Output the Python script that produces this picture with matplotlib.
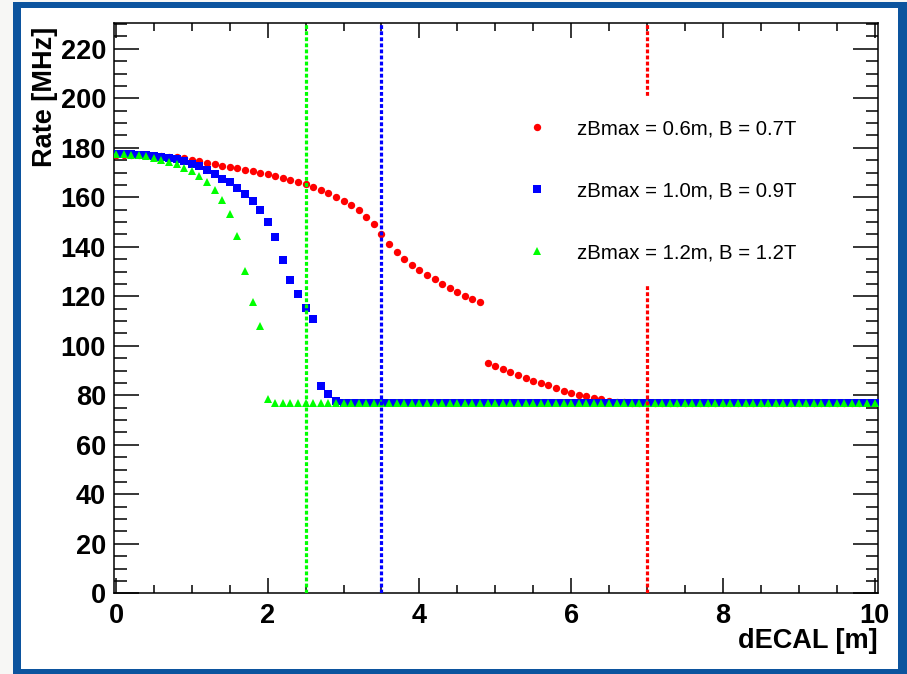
import numpy as np
import matplotlib
matplotlib.use("Agg")
import matplotlib.pyplot as plt
from matplotlib.patches import Rectangle
from matplotlib.ticker import MultipleLocator

# distance to ECAL [m], sampled every 0.1 m
d_ecal = [round(0.1 * i, 1) for i in range(101)]

rate_06 = [177.2, 177.2, 177.1, 177.0, 176.9, 176.8, 176.6, 176.4, 176.2, 175.7,
           175.1, 174.5, 173.9, 173.3, 172.8, 172.3, 171.7, 171.2, 170.6, 170.0,
           169.3, 168.6, 167.9, 167.0, 166.2, 165.2, 164.1, 162.8, 161.7, 160.2,
           158.6, 156.7, 154.7, 152.2, 149.3, 145.2, 141.2, 137.9, 135.2, 132.7,
           130.6, 128.7, 126.8, 125.1, 123.3, 121.8, 120.3, 118.9, 117.5, 93.0,
           92.0, 90.7, 89.4, 88.1, 87.1, 85.9, 85.0, 84.0, 83.1, 81.9,
           81.1, 80.1, 79.6, 78.8, 78.4, 77.8, 77.4, 77.2] + [77.0] * 33

rate_10 = [177.5, 177.4, 177.3, 177.0, 176.9, 176.6, 176.3, 175.9, 175.5, 174.7,
           173.6, 172.5, 171.0, 169.4, 167.5, 166.1, 163.8, 161.5, 158.4, 154.7,
           150.0, 143.9, 134.5, 126.7, 120.9, 115.2, 110.9, 83.8, 80.4, 77.6] + [77.0] * 71

rate_12 = [177.3, 177.3, 177.1, 176.9, 176.6, 176.0, 175.2, 174.4, 173.5, 172.0,
           170.5, 168.8, 166.1, 162.8, 158.8, 153.3, 144.5, 130.4, 117.5, 108.1,
           78.4] + [77.0] * 80

labels = ["zBmax = 0.6m, B = 0.7T",
          "zBmax = 1.0m, B = 0.9T",
          "zBmax = 1.2m, B = 1.2T"]

# chosen ECAL distances for each configuration
cut_06, cut_10, cut_12 = 7.0, 3.5, 2.5

W, H = 907, 674
fig = plt.figure(figsize=(W / 100, H / 100), dpi=100)
fig.patch.set_facecolor("#f7f7f5")

# slide-style blue frame
fig.add_artist(Rectangle((13.3 / W, -0.05), 1.2, (H - 1.7) / H + 0.05,
                         transform=fig.transFigure, facecolor="#0c549e",
                         edgecolor="none", zorder=-2))
fig.add_artist(Rectangle((20.7 / W, 5 / H), (898.3 - 20.7) / W, (669 - 8.3) / H,
                         transform=fig.transFigure, facecolor="white",
                         edgecolor="none", zorder=-1))

ax = fig.add_axes([114 / W, (H - 593.3) / H, (877.7 - 114) / W, (593.3 - 23.3) / H])
ax.set_zorder(1)
ax.set_facecolor("white")

bold = dict(family=["Liberation Sans", "DejaVu Sans"], weight="bold")
regular = dict(family=["Liberation Sans", "DejaVu Sans"])

ax.plot(d_ecal, rate_06, linestyle="none", marker="o", ms=5.3, mew=0,
        color="#ff0000", label=labels[0], zorder=3)
ax.plot(d_ecal, rate_10, linestyle="none", marker="s", ms=5.6, mew=0,
        color="#0000ff", label=labels[1], zorder=3)
ax.plot(d_ecal, rate_12, linestyle="none", marker="^", ms=6.0, mew=0,
        color="#00ff00", label=labels[2], zorder=3)

dots = (0, (1.2, 0.7))
for xc, col in [(cut_12, "#00ff00"), (cut_10, "#0000ff"), (cut_06, "#ff0000")]:
    ax.axvline(xc, color=col, lw=2.3, linestyle=dots, zorder=4)

ax.set_xlim(-0.026, 10.042)
ax.set_ylim(0, 230.3)

ax.xaxis.set_major_locator(MultipleLocator(2))
ax.xaxis.set_minor_locator(MultipleLocator(0.5))
ax.yaxis.set_major_locator(MultipleLocator(20))
ax.yaxis.set_minor_locator(MultipleLocator(5))

ax.tick_params(which="both", direction="in", top=True, right=True, width=1.1,
               color="black")
ax.tick_params(axis="x", which="major", length=10.8, pad=7)
ax.tick_params(axis="x", which="minor", length=5.5)
ax.tick_params(axis="y", which="major", length=18, pad=5.8)
ax.tick_params(axis="y", which="minor", length=9)
for lab in ax.get_xticklabels() + ax.get_yticklabels():
    lab.set_fontsize(19.5)
    lab.set_fontfamily(bold["family"])
    lab.set_fontweight("bold")

for sp in ax.spines.values():
    sp.set_linewidth(1.1)
    sp.set_color("black")

ax.set_xlabel("dECAL [m]", fontsize=19.5, **bold)
ax.xaxis.label.set_ha("right")
ax.xaxis.label.set_va("baseline")
ax.xaxis.set_label_coords(1.0, (593.3 - 648) / 570)

ax.set_ylabel("Rate [MHz]", fontsize=19.5, **bold)
ax.yaxis.label.set_ha("right")
ax.yaxis.label.set_va("bottom")
ax.yaxis.set_label_coords((58 - 114) / 763.7, (593.3 - 27) / 570)

leg = ax.legend(loc="upper left", bbox_to_anchor=(504 / W, 1 - 97 / H),
                bbox_transform=fig.transFigure, borderaxespad=0,
                frameon=True, fancybox=False, facecolor="white",
                edgecolor="none", framealpha=1.0, numpoints=1,
                handlelength=1.0, handletextpad=1.46, labelspacing=2.1,
                borderpad=1.1, prop=dict(size=14.7, **regular))
leg.set_zorder(10)

fig.savefig("out.png", dpi=100, facecolor=fig.get_facecolor())
